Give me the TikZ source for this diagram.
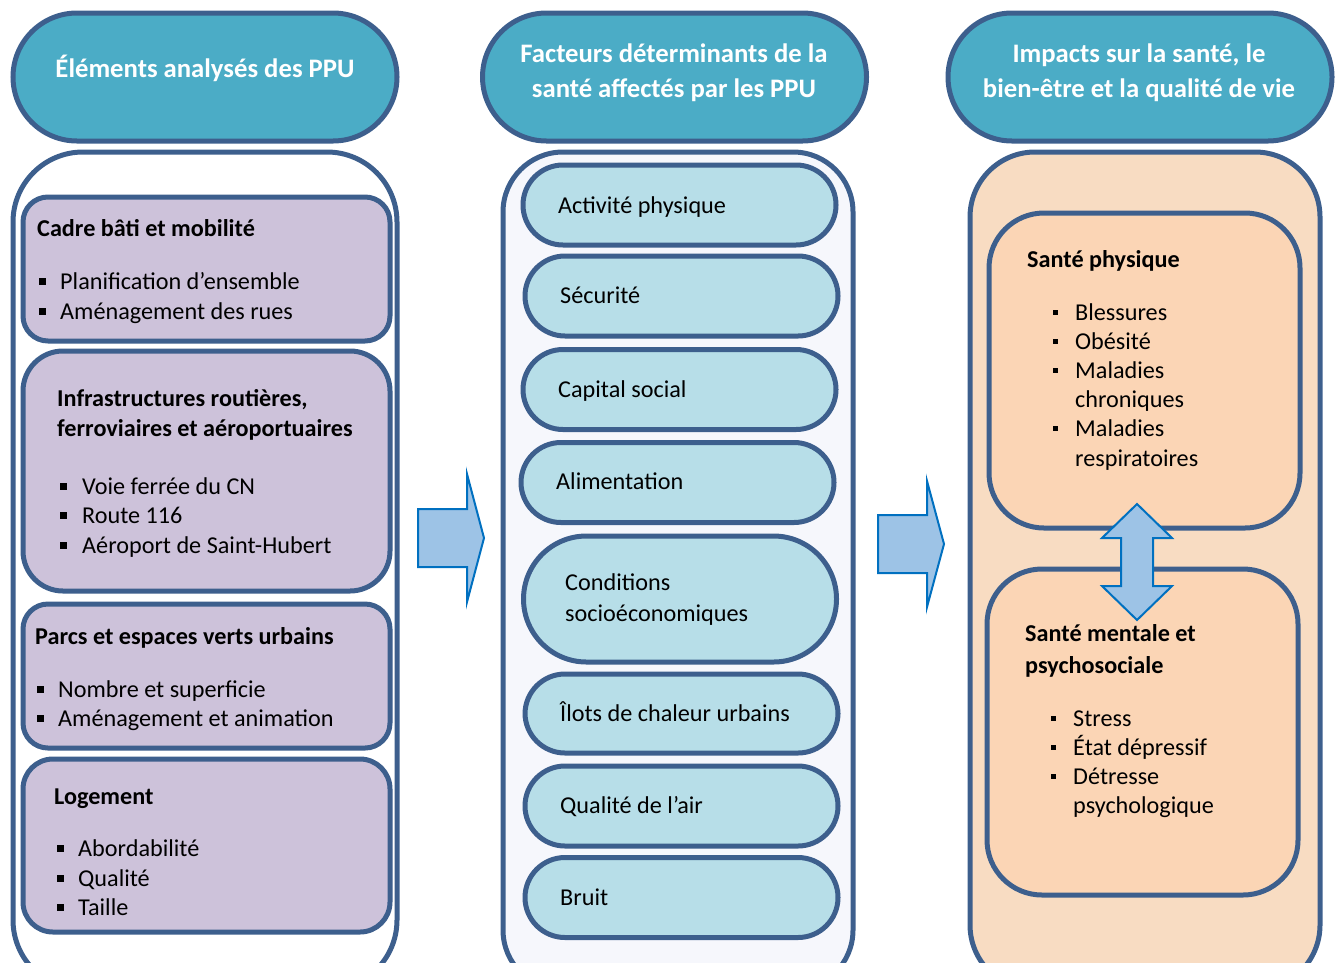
\documentclass[tikz,border=0pt]{standalone}
\usepackage{fontspec}
\setmainfont{Carlito}
\definecolor{edge}{HTML}{3D5F8D}
\definecolor{head}{HTML}{4BACC6}
\definecolor{lilac}{HTML}{CDC2DA}
\definecolor{pale}{HTML}{F6F7FC}
\definecolor{aqua}{HTML}{B7DEE8}
\definecolor{peachbg}{HTML}{F8DCC2}
\definecolor{peach}{HTML}{FBD5B5}
\definecolor{arrowfill}{HTML}{9DC3E6}
\definecolor{arrowedge}{HTML}{0070C0}
\tikzset{
  panel/.style={draw=edge, line width=5pt, inner sep=0pt, outer sep=0pt},
  headbox/.style={panel, fill=head, minimum height=128pt, minimum width=384pt, rounded corners=64pt},
  pill/.style={panel, fill=aqua, minimum width=313pt, minimum height=80pt, rounded corners=40pt},
  leftbox/.style={panel, fill=lilac, minimum width=367pt},
  rightbox/.style={panel, fill=peach, minimum width=311pt, rounded corners=55pt},
  txt/.style={anchor=base west, inner sep=0pt, font=\fontsize{24.2}{29}\selectfont},
  btxt/.style={txt, font=\fontsize{24.2}{29}\selectfont\bfseries},
  htxt/.style={anchor=base, inner sep=0pt, text=white, font=\fontsize{26.7}{32}\selectfont\bfseries},
  blockarrow/.style={draw=arrowedge, fill=arrowfill, line width=2pt, line join=miter},
}
\newcommand\bigbul[2]{\fill (#1-3.5,#2-3.5) rectangle (#1+3.5,#2+3.5);}
\newcommand\smallbul[2]{\fill (#1-2.5,#2-2.5) rectangle (#1+2.5,#2+2.5);}
\begin{document}
\begin{tikzpicture}[x=1pt,y=-1pt]
\useasboundingbox (0,0) rectangle (1337,962);
\clip (0,0) rectangle (1337,962);
% headers
\node[headbox] (h1) at (205,77) {};
\node[headbox] (h2) at (674.5,77) {};
\node[headbox] (h3) at (1140,77) {};
\node[htxt] (h1t) at (205,77) {Éléments analysés des PPU};
\node[htxt] (h2ta) at (674,62) {Facteurs déterminants de la};
\node[htxt] (h2tb) at (674,97) {santé affectés par les PPU};
\node[htxt] (h3ta) at (1139,62) {Impacts sur la santé, le};
\node[htxt] (h3tb) at (1139,97) {bien-être et la qualité de vie};
% containers
\node[panel, fill=white, minimum width=384pt, minimum height=838pt, rounded corners=70pt] (c1) at (205,571) {};
\node[panel, fill=pale, minimum width=350pt, minimum height=838pt, rounded corners=60pt] (c2) at (678,571) {};
\node[panel, fill=peachbg, minimum width=350pt, minimum height=838pt, rounded corners=65pt] (c3) at (1145,571) {};
% left boxes
\node[leftbox, minimum height=144pt, rounded corners=25pt] (b1) at (206.5,269) {};
\node[leftbox, minimum height=240pt, rounded corners=40pt] (b2) at (206.5,471) {};
\node[leftbox, minimum height=144pt, rounded corners=25pt] (b3) at (206.5,676) {};
\node[leftbox, minimum height=173pt, rounded corners=30pt] (b4) at (206.5,845.5) {};
\node[btxt] (b1h) at (37,236) {Cadre bâti et mobilité};
\bigbul{42}{281}\node[txt] (b1a) at (60,289) {Planification d’ensemble};
\bigbul{42}{311}\node[txt] (b1b) at (60,319) {Aménagement des rues};
\node[btxt] (b2h) at (57,406) {Infrastructures routières,};
\node[btxt] (b2h2) at (57,436) {ferroviaires et aéroportuaires};
\bigbul{63}{486}\node[txt] (b2a) at (82,494) {Voie ferrée du CN};
\bigbul{63}{515}\node[txt] (b2b) at (82,523) {Route 116};
\bigbul{63}{545}\node[txt] (b2c) at (82,553) {Aéroport de Saint-Hubert};
\node[btxt] (b3h) at (35,644) {Parcs et espaces verts urbains};
\bigbul{40}{689}\node[txt] (b3a) at (58,697) {Nombre et superficie};
\bigbul{40}{718}\node[txt] (b3b) at (58,726) {Aménagement et animation};
\node[btxt] (b4h) at (54,804) {Logement};
\bigbul{60}{848}\node[txt] (b4a) at (78,856) {Abordabilité};
\bigbul{60}{878}\node[txt] (b4b) at (78,886) {Qualité};
\bigbul{60}{907}\node[txt] (b4c) at (78,915) {Taille};
% middle pills
\node[pill] (m1) at (679.5,205) {};
\node[pill] (m2) at (681.5,296) {};
\node[pill] (m3) at (679.5,389.5) {};
\node[pill] (m4) at (677.5,482.5) {};
\node[pill, minimum height=126pt, rounded corners=63pt] (m5) at (680,599) {};
\node[pill, minimum height=79pt] (m6) at (681.5,713.5) {};
\node[pill] (m7) at (681.5,806) {};
\node[pill] (m8) at (681.5,897.5) {};
\node[txt] (m1t) at (558,213) {Activité physique};
\node[txt] (m2t) at (560,303) {Sécurité};
\node[txt] (m3t) at (558,397) {Capital social};
\node[txt] (m4t) at (556,489) {Alimentation};
\node[txt] (m5t) at (565,590) {Conditions};
\node[txt] (m5t2) at (565,621) {socioéconomiques};
\node[txt] (m6t) at (560,721) {Îlots de chaleur urbains};
\node[txt] (m7t) at (560,813) {Qualité de l’air};
\node[txt] (m8t) at (560,905) {Bruit};
% right boxes
\node[rightbox, minimum height=315pt] (ra) at (1144.5,370.5) {};
\node[rightbox, minimum height=326pt] (rb) at (1142.5,732) {};
\node[btxt] (rah) at (1027,267) {Santé physique};
\smallbul{1055}{312}\node[txt] (ra1) at (1075,320) {Blessures};
\smallbul{1055}{341}\node[txt] (ra2) at (1075,349) {Obésité};
\smallbul{1055}{370}\node[txt] (ra3) at (1075,378) {Maladies};
\node[txt] (ra3b) at (1075,407) {chroniques};
\smallbul{1055}{428}\node[txt] (ra4) at (1075,436) {Maladies};
\node[txt] (ra4b) at (1075,466) {respiratoires};
\node[btxt] (rbh) at (1025,641) {Santé mentale et};
\node[btxt] (rbh2) at (1025,673) {psychosociale};
\smallbul{1053}{718}\node[txt] (rb1) at (1073,726) {Stress};
\smallbul{1053}{747}\node[txt] (rb2) at (1073,755) {État dépressif};
\smallbul{1053}{776}\node[txt] (rb3) at (1073,784) {Détresse};
\node[txt] (rb3b) at (1073,813) {psychologique};
% block arrows
\draw[blockarrow] (418,509) -- (467,509) -- (467,474) -- (484,538) -- (467,602) -- (467,567) -- (418,567) -- cycle;
\draw[blockarrow] (878,515) -- (927,515) -- (927,481) -- (944,544) -- (927,607) -- (927,573) -- (878,573) -- cycle;
\draw[blockarrow] (1137,504) -- (1172,538) -- (1153,538) -- (1153,586) -- (1172,586) -- (1137,620) -- (1102,586) -- (1121,586) -- (1121,538) -- (1102,538) -- cycle;
\end{tikzpicture}
\end{document}
